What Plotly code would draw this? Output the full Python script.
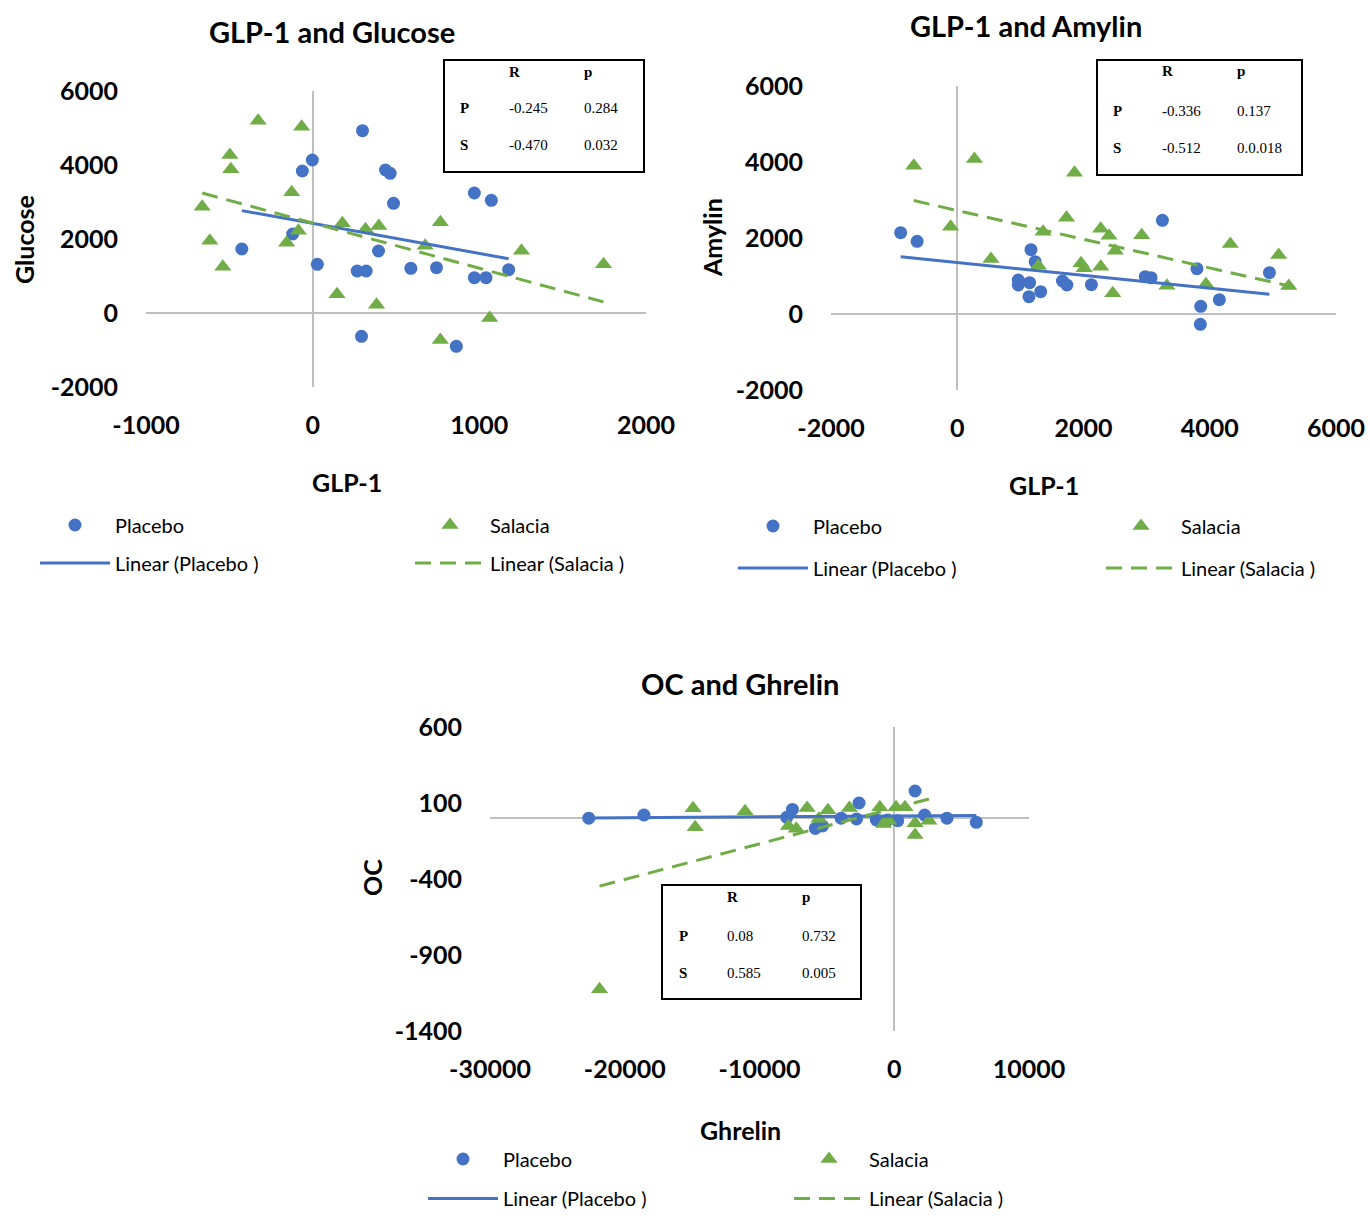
import numpy as np
import plotly.graph_objects as go

W, H = 1370, 1218

# ---------------- data ----------------
# Chart 1: GLP-1 (x) vs Glucose (y)
c1_placebo_x = [299, -2, -62, 437, 465, 485, 970, 1072, -120, -425, 28, 267, 321, 395, 589, 743, 970, 1040, 1176, 293, 862]
c1_placebo_y = [4927, 4135, 3838, 3865, 3775, 2964, 3243, 3045, 2135, 1730, 1315, 1135, 1135, 1676, 1207, 1225, 955, 955, 1171, -630, -900]
c1_salacia_x = [-327, -66, -497, -491, -126, -663, -617, -539, -156, -86, 178, 317, 397, 766, 675, 1253, 1745, 146, 383, 1062, 766]
c1_salacia_y = [5198, 5036, 4270, 3883, 3261, 2874, 1955, 1252, 1901, 2225, 2423, 2261, 2351, 2450, 1820, 1685, 1315, 505, 225, -135, -730]

# Chart 2: GLP-1 (x) vs Amylin (y)
c2_placebo_x = [-897, -636, 1168, 1234, 967, 967, 1146, 1136, 1322, 1666, 1737, 2125, 2978, 3070, 3250, 3797, 3857, 3851, 4152, 4945]
c2_placebo_y = [2140, 1913, 1693, 1377, 895, 763, 825, 456, 588, 868, 763, 772, 982, 956, 2465, 1193, 202, -272, 377, 1088]
c2_salacia_x = [-689, 272, 1857, -105, 534, 1360, 1284, 1731, 2273, 2404, 2502, 1960, 2010, 2273, 2463, 2922, 3322, 3940, 4326, 5092, 5251]
c2_salacia_y = [3903, 4079, 3718, 2298, 1447, 2166, 1272, 2535, 2246, 2061, 1667, 1333, 1202, 1246, 544, 2070, 746, 780, 1842, 1553, 737]

# Chart 3: Ghrelin (x) vs OC (y)
c3_placebo_x = [-22670, -18575, -7557, -7980, -5857, -5323, -3942, -2613, -2798, -1329, -483, 260, 1544, 2257, 3912, 6088]
c3_placebo_y = [0, 21, 58, 6, -67, -51, 0, 100, -5, -12, -12, -16, 179, 21, 0, -27]
c3_salacia_x = [-14930, -14773, -11070, -7854, -7268, -6466, -4922, -5590, -3326, -1069, -802, -401, 134, 794, 1544, 1544, 2576, -21871]
c3_salacia_y = [65, -60, 45, -51, -69, 67, 52, -3, 67, 72, -38, -16, 72, 72, -34, -110, -16, -1126]

# tick values / labels
c1_xticks = [-1000, 0, 1000, 2000]
c1_yticks = [-2000, 0, 2000, 4000, 6000]
c2_xticks = [-2000, 0, 2000, 4000, 6000]
c2_yticks = [-2000, 0, 2000, 4000, 6000]
c3_xticks = [-30000, -20000, -10000, 0, 10000]
c3_yticks = [-1400, -900, -400, 100, 600]

titles = ["GLP-1 and Glucose", "GLP-1 and Amylin", "OC and Ghrelin"]
x_titles = ["GLP-1", "GLP-1", "Ghrelin"]
y_titles = ["Glucose", "Amylin", "OC"]

table_header = ["R", "p"]
table_rows = ["P", "S"]
c1_table = [["-0.245", "0.284"], ["-0.470", "0.032"]]
c2_table = [["-0.336", "0.137"], ["-0.512", "0.0.018"]]
c3_table = [["0.08", "0.732"], ["0.585", "0.005"]]

series_names = ["Placebo", "Salacia"]
trend_names = ["Linear (Placebo )", "Linear (Salacia )"]

BLUE = "#4472C4"
GREEN = "#70AD47"
AXC = "#BFBFBF"
FONT = "Lato"


def px(x):
    return x / W


def py(y):
    return 1 - y / H


def lbl(v):
    return "%d" % v  # plain hyphen-minus like the original


fig = go.Figure()

charts = [
    dict(px_=c1_placebo_x, py_=c1_placebo_y, sx=c1_salacia_x, sy=c1_salacia_y,
         xr=[-1000, 2000], yr=[-2000, 6000], xt_=c1_xticks, yt_=c1_yticks,
         dom_x=[146, 646], dom_y=[387, 91], ax="", table=c1_table,
         box=(444, 60, 644, 172),
         tcols=(507, 582), tlabel=458, trows=(72, 108, 145),
         title=(332, 32), xt=(347, 482), yt=(24, 240),
         legx=(35, 410), legy=(525, 563)),
    dict(px_=c2_placebo_x, py_=c2_placebo_y, sx=c2_salacia_x, sy=c2_salacia_y,
         xr=[-2000, 6000], yr=[-2000, 6000], xt_=c2_xticks, yt_=c2_yticks,
         dom_x=[831, 1336], dom_y=[390, 86], ax="2", table=c2_table,
         box=(1097, 60, 1302, 175),
         tcols=(1160, 1235), tlabel=1111, trows=(71, 111, 148),
         title=(1026, 25), xt=(1044, 485), yt=(712, 238),
         legx=(733, 1101), legy=(526, 568)),
    dict(px_=c3_placebo_x, py_=c3_placebo_y, sx=c3_salacia_x, sy=c3_salacia_y,
         xr=[-30000, 10000], yr=[-1400, 600], xt_=c3_xticks, yt_=c3_yticks,
         dom_x=[490, 1029], dom_y=[1031, 727], ax="3", table=c3_table,
         box=(662, 885, 861, 999),
         tcols=(725, 800), tlabel=677, trows=(897, 936, 973),
         title=(740, 683), xt=(740, 1130), yt=(372, 878),
         legx=(423, 789), legy=(1159, None)),  # None: sit on the bottom edge
]

annotations = []
shapes = []
legend_layouts = {}
leg_n = 0

for i, c in enumerate(charts):
    ax = c["ax"]
    xa = "x" + ax
    ya = "y" + ax

    def next_legend(x, y):
        global leg_n
        leg_n += 1
        name = "legend" if leg_n == 1 else "legend%d" % leg_n
        if y is None:
            yy, anc = 0.0, "bottom"
        else:
            yy, anc = py(y), "middle"
        legend_layouts[name] = dict(
            x=px(x), y=yy, xref="paper", yref="paper", xanchor="left",
            yanchor=anc, orientation="h", bgcolor="rgba(0,0,0,0)",
            font=dict(family=FONT, size=20, color="#000"), itemwidth=70,
            itemclick=False, itemdoubleclick=False)
        return name

    fig.add_trace(go.Scatter(x=c["px_"], y=c["py_"], mode="markers", name=series_names[0],
                             marker=dict(symbol="circle", size=13, color=BLUE),
                             xaxis=xa, yaxis=ya, cliponaxis=False,
                             legend=next_legend(c["legx"][0], c["legy"][0])))
    fig.add_trace(go.Scatter(x=c["sx"], y=c["sy"], mode="markers", name=series_names[1],
                             marker=dict(symbol="triangle-up", size=15, color=GREEN),
                             xaxis=xa, yaxis=ya, cliponaxis=False,
                             legend=next_legend(c["legx"][1], c["legy"][0])))
    for k, (xs, ys, col, dash) in enumerate([(c["px_"], c["py_"], BLUE, "solid"),
                                             (c["sx"], c["sy"], GREEN, "16px,9px")]):
        xs = np.array(xs, float)
        ys = np.array(ys, float)
        m, b = np.polyfit(xs, ys, 1)
        lx = np.array([xs.min(), xs.max()])
        fig.add_trace(go.Scatter(x=lx, y=m * lx + b, mode="lines", name=trend_names[k],
                                 line=dict(color=col, width=3, dash=dash),
                                 xaxis=xa, yaxis=ya, cliponaxis=False,
                                 legend=next_legend(c["legx"][k], c["legy"][1])))

    axis_font = dict(family=FONT, size=25, color="#000000", weight="bold")
    fig.update_layout(**{
        "xaxis" + ax: dict(domain=[px(c["dom_x"][0]), px(c["dom_x"][1])], range=c["xr"],
                           tickmode="array", tickvals=c["xt_"], ticktext=[lbl(v) for v in c["xt_"]],
                           showgrid=False, showline=False,
                           zeroline=True, zerolinecolor=AXC, zerolinewidth=1.5,
                           tickfont=axis_font, ticks="", ticklabelstandoff=21,
                           anchor=ya, fixedrange=True, automargin=False),
        "yaxis" + ax: dict(domain=[py(c["dom_y"][0]), py(c["dom_y"][1])], range=c["yr"],
                           tickmode="array", tickvals=c["yt_"], ticktext=[lbl(v) for v in c["yt_"]],
                           showgrid=False, showline=False,
                           zeroline=True, zerolinecolor=AXC, zerolinewidth=1.5,
                           tickfont=axis_font, ticks="", ticklabelstandoff=27,
                           anchor=xa, fixedrange=True, automargin=False),
    })

    annotations.append(dict(text=titles[i], x=px(c["title"][0]), y=py(c["title"][1]),
                            xref="paper", yref="paper", showarrow=False,
                            xanchor="center", yanchor="middle",
                            font=dict(family=FONT, size=29, color="#000", weight="bold")))
    annotations.append(dict(text=x_titles[i], x=px(c["xt"][0]), y=py(c["xt"][1]),
                            xref="paper", yref="paper", showarrow=False,
                            xanchor="center", yanchor="middle",
                            font=dict(family=FONT, size=25, color="#000", weight="bold")))
    annotations.append(dict(text=y_titles[i], x=px(c["yt"][0]), y=py(c["yt"][1]),
                            xref="paper", yref="paper", showarrow=False, textangle=-90,
                            xanchor="center", yanchor="middle",
                            font=dict(family=FONT, size=25, color="#000", weight="bold")))

    x0, y0, x1, y1 = c["box"]
    shapes.append(dict(type="rect", xref="paper", yref="paper",
                       x0=px(x0), x1=px(x1), y0=py(y1), y1=py(y0),
                       line=dict(color="#000", width=2), fillcolor="rgba(0,0,0,0)"))
    tf_b = dict(family="Liberation Serif", size=15, color="#000", weight="bold")
    tf = dict(family="Liberation Serif", size=15, color="#000")
    for j, hdr in enumerate(table_header):
        annotations.append(dict(text=hdr, x=px(c["tcols"][j]), y=py(c["trows"][0]),
                                xref="paper", yref="paper", showarrow=False,
                                xanchor="left", yanchor="middle", font=tf_b))
    for r, rl in enumerate(table_rows):
        annotations.append(dict(text=rl, x=px(c["tlabel"]), y=py(c["trows"][r + 1]),
                                xref="paper", yref="paper", showarrow=False,
                                xanchor="left", yanchor="middle", font=tf_b))
        for j in range(2):
            annotations.append(dict(text=c["table"][r][j], x=px(c["tcols"][j]),
                                    y=py(c["trows"][r + 1]),
                                    xref="paper", yref="paper", showarrow=False,
                                    xanchor="left", yanchor="middle", font=tf))

fig.update_layout(width=W, height=H, margin=dict(l=0, r=0, t=0, b=0),
                  paper_bgcolor="white", plot_bgcolor="white",
                  showlegend=True, annotations=annotations, shapes=shapes,
                  **legend_layouts)

fig.write_html("out.html", config=dict(displayModeBar=False))
